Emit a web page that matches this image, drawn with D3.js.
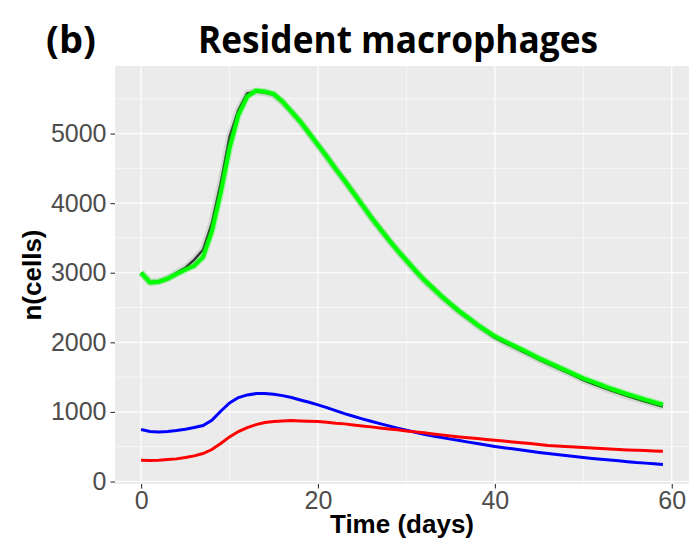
<!DOCTYPE html>
<html>
<head>
<meta charset="utf-8">
<script src="https://cdn.jsdelivr.net/npm/d3@7"></script>
<style>
  body { margin: 0; background: #fff; }
  text { font-family: 'Liberation Sans', Arial, sans-serif; }
</style>
</head>
<body>
<div id="chart"></div>
<script>

var days = [0, 1, 2, 3, 4, 5, 6, 7, 8, 9, 10, 11, 12, 13, 14, 15, 16, 17, 18, 19,
  20, 21, 22, 23, 24, 25, 26, 27, 28, 29, 30, 31, 32, 33, 34, 35, 36, 37, 38, 39,
  40, 41, 42, 43, 44, 45, 46, 47, 48, 49, 50, 51, 52, 53, 54, 55, 56, 57, 58, 59]

// total resident macrophages, model (black) and simulation mean (green)
var modelTotal = [3000, 2865, 2875, 2920, 2995, 3072, 3186, 3330, 3713, 4288,
  4957, 5340, 5579, 5602, 5590, 5555, 5450, 5310, 5165, 5000,
  4832, 4664, 4488, 4320, 4145, 3971, 3794, 3631, 3469, 3315,
  3165, 3021, 2887, 2768, 2648, 2538, 2433, 2338, 2242, 2156,
  2066, 2002, 1940, 1878, 1817, 1750, 1693, 1635, 1578, 1520,
  1455, 1407, 1360, 1312, 1269, 1226, 1188, 1149, 1111, 1075]

var simTotal = [3000, 2861, 2871, 2914, 2981, 3043, 3100, 3225, 3593, 4144,
  4789, 5268, 5531, 5617, 5602, 5569, 5459, 5316, 5172, 5005,
  4837, 4669, 4493, 4325, 4150, 3976, 3799, 3636, 3474, 3320,
  3177, 3033, 2899, 2780, 2660, 2550, 2445, 2350, 2254, 2168,
  2086, 2022, 1960, 1898, 1837, 1770, 1713, 1655, 1598, 1540,
  1483, 1435, 1388, 1340, 1297, 1254, 1216, 1177, 1139, 1105]

var blueSeries = [746, 718, 713, 718, 732, 751, 775, 804, 880, 1010,
  1129, 1206, 1244, 1263, 1263, 1253, 1234, 1206, 1172, 1139,
  1101, 1062, 1019, 976, 937, 900, 866, 832, 799, 765,
  737, 708, 679, 655, 632, 609, 588, 566, 545, 523,
  502, 486, 469, 452, 435, 418, 402, 388, 373, 358,
  344, 332, 320, 309, 297, 285, 273, 264, 254, 244]

var redSeries = [306, 303, 306, 316, 325, 344, 368, 402, 459, 545,
  641, 718, 775, 818, 847, 861, 871, 876, 871, 866,
  861, 852, 837, 828, 813, 799, 785, 770, 756, 742,
  727, 713, 699, 684, 670, 655, 641, 629, 617, 605,
  593, 581, 569, 557, 545, 531, 517, 510, 502, 495,
  488, 481, 474, 466, 459, 454, 449, 444, 440, 435]

var xTicks = [0, 20, 40, 60]
var xMinor = [10, 30, 50]
var yTicks = [0, 1000, 2000, 3000, 4000, 5000]
var yMinor = [500, 1500, 2500, 3500, 4500, 5500]

var W = 690, H = 548
var panel = {left: 115, right: 689, top: 66, bottom: 484}

var svg = d3.select('#chart').append('svg').attr('width', W).attr('height', H)

var x = d3.scaleLinear().domain([-2.95, 61.95]).range([panel.left, panel.right])
var y = d3.scaleLinear().domain([-36, 5971]).range([panel.bottom, panel.top])

svg.append('rect')
  .attr('x', panel.left).attr('y', panel.top)
  .attr('width', panel.right - panel.left).attr('height', panel.bottom - panel.top)
  .attr('fill', '#EBEBEB')

var grid = svg.append('g')
grid.selectAll('line.ymin').data(yMinor).enter().append('line')
  .attr('x1', panel.left).attr('x2', panel.right)
  .attr('y1', y).attr('y2', y)
  .attr('stroke', '#fff').attr('stroke-width', 0.6)
grid.selectAll('line.xmin').data(xMinor).enter().append('line')
  .attr('y1', panel.top).attr('y2', panel.bottom)
  .attr('x1', x).attr('x2', x)
  .attr('stroke', '#fff').attr('stroke-width', 0.6)
grid.selectAll('line.ymaj').data(yTicks).enter().append('line')
  .attr('x1', panel.left).attr('x2', panel.right)
  .attr('y1', y).attr('y2', y)
  .attr('stroke', '#fff').attr('stroke-width', 1.2)
grid.selectAll('line.xmaj').data(xTicks).enter().append('line')
  .attr('y1', panel.top).attr('y2', panel.bottom)
  .attr('x1', x).attr('x2', x)
  .attr('stroke', '#fff').attr('stroke-width', 1.2)

var line = d3.line().x(function(d, i){ return x(days[i]) }).y(function(d){ return y(d) })

var plot = svg.append('g')
// bands round the model and simulation curves
plot.append('path').attr('d', line(modelTotal))
  .attr('fill', 'none').attr('stroke', '#777').attr('stroke-opacity', 0.18)
  .attr('stroke-width', 7).attr('stroke-linejoin', 'round')
plot.append('path').attr('d', line(modelTotal))
  .attr('fill', 'none').attr('stroke', '#333').attr('stroke-width', 2.4)
plot.append('path').attr('d', line(simTotal))
  .attr('fill', 'none').attr('stroke', '#00FF00').attr('stroke-opacity', 0.3)
  .attr('stroke-width', 6.5).attr('stroke-linejoin', 'round')
plot.append('path').attr('d', line(simTotal))
  .attr('fill', 'none').attr('stroke', '#00FF00').attr('stroke-width', 4)
plot.append('path').attr('d', line(blueSeries))
  .attr('fill', 'none').attr('stroke', '#0000FF').attr('stroke-width', 3)
plot.append('path').attr('d', line(redSeries))
  .attr('fill', 'none').attr('stroke', '#FF0000').attr('stroke-width', 3)

// axes
var xAxis = d3.axisBottom(x).tickValues(xTicks).tickSize(4.5).tickPadding(3).tickFormat(d3.format('d'))
var yAxis = d3.axisLeft(y).tickValues(yTicks).tickSize(4.5).tickPadding(4).tickFormat(d3.format('d'))

var gx = svg.append('g').attr('transform', 'translate(0,' + panel.bottom + ')').call(xAxis)
var gy = svg.append('g').attr('transform', 'translate(' + panel.left + ',0)').call(yAxis)

;[gx, gy].forEach(function(g){
  g.select('.domain').remove()
  g.selectAll('line').attr('stroke', '#333').attr('stroke-width', 1.1)
  g.selectAll('text').attr('fill', '#4D4D4D').style('font-size', '25px')
    .style('font-family', "'Liberation Sans', Arial, sans-serif")
})
gx.selectAll('text').attr('dy', '0.71em')

svg.append('text')
  .attr('x', (panel.left + panel.right) / 2).attr('y', 533)
  .attr('text-anchor', 'middle')
  .style('font-size', '26px').style('font-weight', 'bold')
  .text('Time (days)')

svg.append('text')
  .attr('transform', 'translate(41,' + ((panel.top + panel.bottom) / 2) + ') rotate(-90)')
  .attr('text-anchor', 'middle')
  .style('font-size', '26px').style('font-weight', 'bold')
  .text('n(cells)')

svg.append('text')
  .attr('x', 198).attr('y', 53)
  .attr('textLength', 400).attr('lengthAdjust', 'spacingAndGlyphs')
  .style('font-family', "'Open Sans', sans-serif")
  .style('font-size', '38px').style('font-weight', 'bold')
  .text('Resident macrophages')

svg.append('text')
  .attr('x', 46).attr('y', 53)
  .style('font-family', "'Open Sans', sans-serif")
  .style('font-size', '38px').style('font-weight', 'bold')
  .text('(b)')

</script>
</body>
</html>
